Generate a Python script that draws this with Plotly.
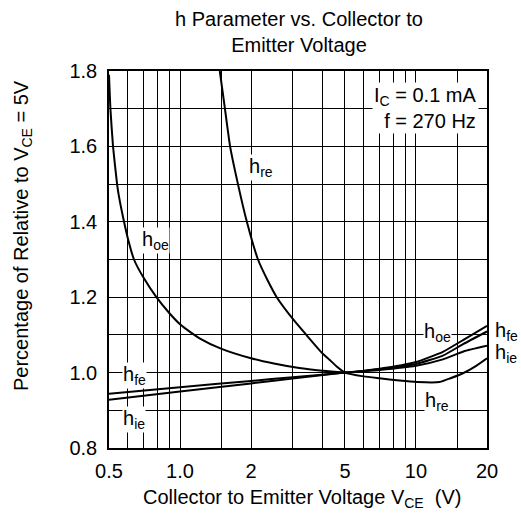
import plotly.graph_objects as go

# ---------------- data ----------------
hoe_v = [0.5, 0.507, 0.52, 0.541, 0.55, 0.579, 0.6, 0.638, 0.7, 0.794, 0.9, 1.0, 1.048,
         1.21, 1.5, 2.0, 2.5, 3.2, 4.0, 5.0, 7.0, 10.0, 13.0, 15.9, 20.0]
hoe_r = [1.79, 1.70, 1.60, 1.50, 1.47, 1.40, 1.358, 1.30, 1.252, 1.20, 1.158, 1.128, 1.118,
         1.091, 1.063, 1.038, 1.024, 1.012, 1.005, 1.0, 1.01, 1.028, 1.055, 1.087, 1.124]

hre_v = [1.474, 1.55, 1.63, 1.76, 1.92, 2.14, 2.35, 2.57, 3.0, 3.43, 4.0, 4.3, 4.6, 5.0,
         6.0, 7.0, 8.5, 10.1, 12.6, 14.0, 15.9, 18.0, 20.0]
hre_r = [1.80, 1.70, 1.60, 1.50, 1.40, 1.30, 1.245, 1.20, 1.143, 1.10, 1.052, 1.034, 1.017, 1.0,
         0.99, 0.985, 0.979, 0.975, 0.975, 0.985, 0.999, 1.018, 1.038]

hfe_v = [0.5, 1.0, 2.0, 3.0, 5.0, 7.0, 10.0, 13.0, 15.9, 20.0]
hfe_r = [0.944, 0.961, 0.978, 0.9876, 1.0, 1.009, 1.023, 1.045, 1.076, 1.109]

hie_v = [0.5, 1.0, 2.0, 3.0, 5.0, 7.0, 10.0, 13.0, 15.9, 20.0]
hie_r = [0.928, 0.9497, 0.9713, 0.984, 1.0, 1.007, 1.018, 1.035, 1.056, 1.071]

x_tickvals = [0.5, 1.0, 2, 5, 10, 20]
x_ticktext = ["0.5", "1.0", "2", "5", "10", "20"]
x_minor = [0.6, 0.7, 0.8, 0.9, 1.5, 3, 4, 6, 7, 8, 9, 15]
y_tickvals = [0.8, 1.0, 1.2, 1.4, 1.6, 1.8]
y_ticktext = ["0.8", "1.0", "1.2", "1.4", "1.6", "1.8"]
y_minor = [0.9, 1.1, 1.3, 1.5, 1.7]

# ---------------- layout geometry ----------------
W, H = 521, 518
L, R, T, B = 109, 34, 71, 70
PW, PH = W - L - R, H - T - B
FONT = "Liberation Sans, Arial, sans-serif"
FS = 20


def px(x):
    return (x - L) / PW


def py(y):
    return (H - B - y) / PH


fig = go.Figure()
for xs, ys in [(hoe_v, hoe_r), (hre_v, hre_r), (hfe_v, hfe_r), (hie_v, hie_r)]:
    fig.add_trace(go.Scatter(x=xs, y=ys, mode="lines",
                             line=dict(color="black", width=2, shape="spline", smoothing=0.5),
                             showlegend=False, hoverinfo="skip"))

fig.update_layout(
    width=W, height=H,
    margin=dict(l=L, r=R, t=T, b=B),
    paper_bgcolor="white", plot_bgcolor="white",
    font=dict(family=FONT, size=FS, color="black"),
    showlegend=False,
)
fig.update_xaxes(
    type="log", range=[-0.30103, 1.30103],
    tickmode="array", tickvals=x_tickvals, ticktext=x_ticktext,
    showgrid=True, gridcolor="black", gridwidth=1,
    minor=dict(tickmode="array", tickvals=x_minor, showgrid=True, gridcolor="black", gridwidth=1, ticks=""),
    showline=True, linecolor="black", linewidth=1.5, mirror=True,
    ticks="", ticklabelstandoff=4, zeroline=False,
    tickfont=dict(size=FS),
)
fig.update_yaxes(
    range=[0.8, 1.8],
    tickmode="array", tickvals=y_tickvals, ticktext=y_ticktext,
    showgrid=True, gridcolor="black", gridwidth=1,
    minor=dict(tickmode="array", tickvals=y_minor, showgrid=True, gridcolor="black", gridwidth=1, ticks=""),
    showline=True, linecolor="black", linewidth=1.5, mirror=True,
    ticks="", ticklabelstandoff=6, zeroline=False,
    tickfont=dict(size=FS),
)

ann = []
# title
ann.append(dict(text="h Parameter vs. Collector to<br>Emitter Voltage", x=px(299), y=py(32),
                xref="paper", yref="paper", showarrow=False, xanchor="center", yanchor="middle",
                font=dict(size=FS)))
# axis titles
ann.append(dict(text="Collector to Emitter Voltage V<sub>CE</sub>  (V)", x=px(302), y=py(498),
                xref="paper", yref="paper", showarrow=False, xanchor="center", yanchor="middle",
                font=dict(size=FS)))
ann.append(dict(text="Percentage of Relative to V<sub>CE</sub> = 5V", x=px(22), y=py(236),
                xref="paper", yref="paper", showarrow=False, xanchor="center", yanchor="middle",
                textangle=-90, font=dict(size=FS)))
# condition box
ann.append(dict(text="I<sub>C</sub> = 0.1 mA<br>f = 270 Hz", x=px(479), y=py(108),
                xref="paper", yref="paper", showarrow=False, xanchor="right", yanchor="middle",
                align="right", bgcolor="white", font=dict(size=FS)))
# curve labels: (text, center x px, center y px, bg)
labels = [
    ("h<sub>re</sub>", 261, 167, True),
    ("h<sub>oe</sub>", 155, 241, True),
    ("h<sub>fe</sub>", 134, 375, True),
    ("h<sub>ie</sub>", 134, 419, True),
    ("h<sub>oe</sub>", 437, 332, True),
    ("h<sub>re</sub>", 437, 401, True),
    ("h<sub>fe</sub>", 506, 331, False),
    ("h<sub>ie</sub>", 506, 353, False),
]
for t, x, y, bg in labels:
    ann.append(dict(text=t, x=px(x), y=py(y), xref="paper", yref="paper", showarrow=False,
                    xanchor="center", yanchor="middle", font=dict(size=FS),
                    bgcolor="white" if bg else "rgba(0,0,0,0)", borderpad=0))
fig.update_layout(annotations=ann)

fig.write_html("out.html")
